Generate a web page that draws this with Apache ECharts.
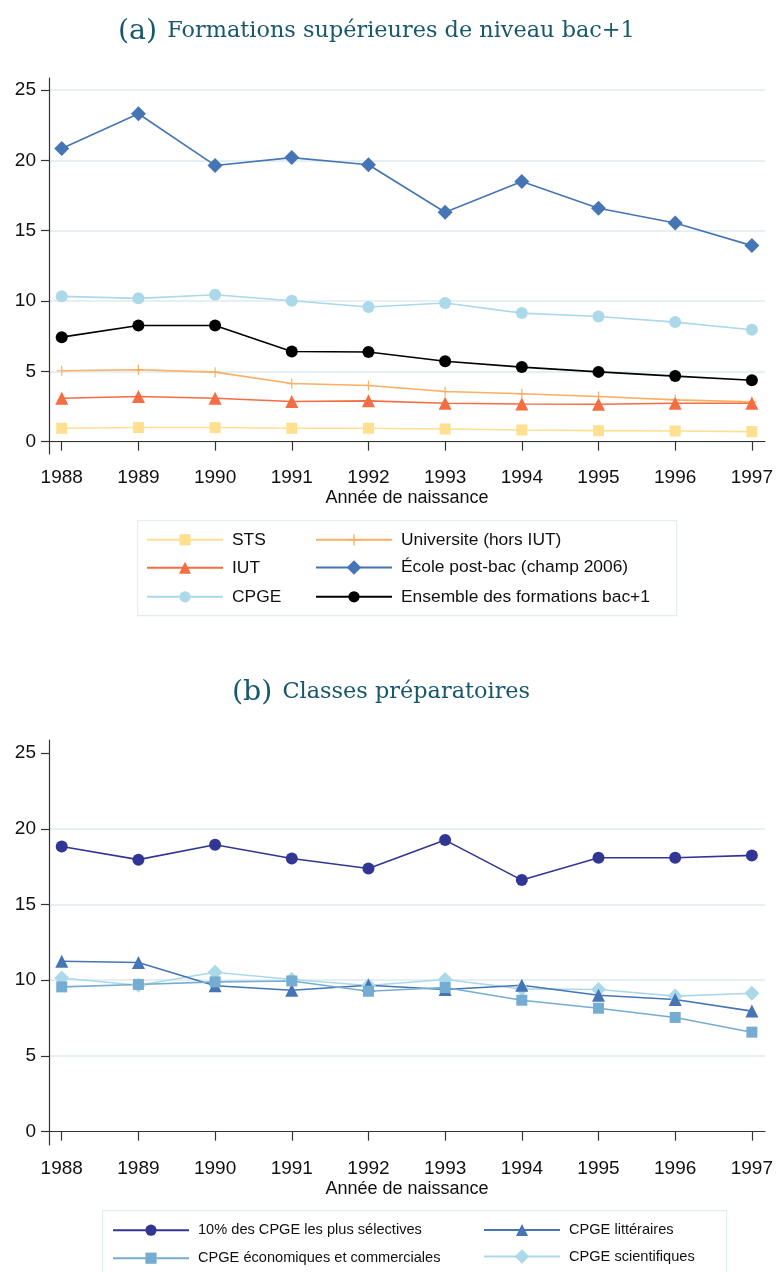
<!DOCTYPE html>
<html>
<head>
<meta charset="utf-8">
<script src="https://cdn.jsdelivr.net/npm/echarts@6.0.0/dist/echarts.min.js"></script>
<style>
  html, body { margin: 0; padding: 0; background: #fff; }
  #chart { width: 776px; height: 1272px; }
</style>
</head>
<body>
<div id="chart"></div>
<script>
// années de naissance (axe x)
const years = [1988, 1989, 1990, 1991, 1992, 1993, 1994, 1995, 1996, 1997];
const yTicks = [0, 5, 10, 15, 20, 25];
const gridLinesA = [0, 5, 10, 15, 20, 25];
const gridLinesB = [5, 10, 15, 20];

// (a) Formations supérieures de niveau bac+1
const sts = [0.95, 1.0, 1.0, 0.95, 0.95, 0.9, 0.83, 0.78, 0.76, 0.71];
const universite = [5.04, 5.11, 4.94, 4.13, 3.99, 3.56, 3.4, 3.21, 2.97, 2.83];
const iut = [3.09, 3.21, 3.09, 2.85, 2.9, 2.73, 2.68, 2.66, 2.73, 2.73];
const ecolePostBac = [20.85, 23.32, 19.64, 20.2, 19.69, 16.31, 18.5, 16.6, 15.55, 13.94];
const cpge = [10.33, 10.19, 10.45, 10.02, 9.57, 9.86, 9.14, 8.9, 8.5, 7.96];
const ensemble = [7.43, 8.26, 8.26, 6.41, 6.37, 5.72, 5.3, 4.96, 4.66, 4.37];

// (b) Classes préparatoires
const top10 = [18.83, 17.96, 18.94, 18.04, 17.38, 19.25, 16.61, 18.09, 18.09, 18.24];
const litteraires = [11.25, 11.17, 9.63, 9.34, 9.67, 9.39, 9.67, 9.01, 8.73, 7.96];
const economiques = [9.56, 9.72, 9.89, 9.95, 9.27, 9.52, 8.68, 8.15, 7.54, 6.57];
const scientifiques = [10.15, 9.67, 10.53, 10.05, 9.65, 10.05, 9.43, 9.39, 8.95, 9.14];

const SANS = "'Liberation Sans', Arial, sans-serif";
const SERIF = "'DejaVu Serif', serif";
const TITLE_COLOR = "#17586c";
const GRID_COLOR = "#e6eff2";
const AXIS_COLOR = "#333";

// symbole "+" plein
const plusSymbol = "path://M4.4,0 H5.6 V4.4 H10 V5.6 H5.6 V10 H4.4 V5.6 H0 V4.4 H4.4 Z";

const chart = echarts.init(document.getElementById("chart"), null, { renderer: "canvas" });

const pair = arr => arr.map((v, i) => [years[i], v]);

const mkSeries = (name, data, color, symbol, size, idx) => ({
    name: name,
    type: "line",
    xAxisIndex: idx,
    yAxisIndex: idx,
    data: pair(data),
    symbol: symbol,
    symbolSize: size,
    showAllSymbol: true,
    z: 3,
    lineStyle: { color: color, width: 1.6 },
    itemStyle: { color: color, borderWidth: 0 },
    emphasis: { disabled: true }
});

// lignes de grille horizontales
const gridSeries = (idx, values) => ({
    type: "line",
    xAxisIndex: idx,
    yAxisIndex: idx,
    data: [],
    z: 1,
    silent: true,
    markLine: {
        silent: true,
        z: 0,
        symbol: ["none", "none"],
        label: { show: false },
        animation: false,
        lineStyle: { color: GRID_COLOR, width: 1.8, type: "solid" },
        data: values.map(v => ({ yAxis: v }))
    }
});

const xAxisCfg = (idx) => ({
    type: "value",
    gridIndex: idx,
    min: 1987.834,
    max: 1997.17,
    name: "Année de naissance",
    nameLocation: "middle",
    nameGap: 35,
    nameTextStyle: { fontFamily: SANS, fontSize: 18, color: "#111" },
    splitLine: { show: false },
    axisLine: { lineStyle: { color: AXIS_COLOR, width: 1.2 } },
    axisTick: { show: true, length: 9, customValues: years, lineStyle: { color: AXIS_COLOR, width: 1.2 } },
    axisLabel: {
        customValues: years,
        margin: 14,
        fontFamily: SANS,
        fontSize: 19,
        color: "#111",
        formatter: v => String(v)
    }
});

const yAxisCfg = (idx) => ({
    type: "value",
    gridIndex: idx,
    min: -0.88,
    max: 25.86,
    splitLine: { show: false },
    axisLine: { show: true, lineStyle: { color: AXIS_COLOR, width: 1.2 } },
    axisTick: { show: true, length: 8, customValues: yTicks, lineStyle: { color: AXIS_COLOR, width: 1.2 } },
    axisLabel: {
        customValues: yTicks,
        margin: 13,
        fontFamily: SANS,
        fontSize: 19,
        color: "#111",
        formatter: v => String(v)
    }
});

// une légende par entrée, placée à la main
const legendItem = (name, left, centerY, fontSize, iconH) => ({
    orient: "horizontal",
    left: left,
    top: centerY + 1 - Math.max(iconH, fontSize) / 2,
    padding: 0,
    itemWidth: 76,
    itemHeight: iconH,
    selectedMode: false,
    data: [name],
    textStyle: { fontFamily: SANS, fontSize: fontSize, color: "#111", padding: [0, 0, 0, 4] }
});

const titleCfg = (text, left, top) => ({
    text: text,
    left: left,
    top: top,
    textStyle: {
        fontWeight: "normal",
        rich: {
            p: { fontFamily: SERIF, fontSize: 28.5, fontWeight: "normal", color: TITLE_COLOR,
                 verticalAlign: "middle", padding: [0, 5, 0, 0] },
            t: { fontFamily: SERIF, fontSize: 22.4, fontWeight: "normal", color: TITLE_COLOR, verticalAlign: "middle" }
        }
    }
});

const option = {
    animation: false,
    backgroundColor: "#fff",
    title: [
        titleCfg("{p|(a)} {t|Formations supérieures de niveau bac+1}", 113, 12),
        titleCfg("{p|(b)} {t|Classes préparatoires}", 227, 673)
    ],
    grid: [
        { left: 49, top: 78, width: 716, height: 376 },
        { left: 49, top: 740, width: 716, height: 405 }
    ],
    xAxis: [xAxisCfg(0), xAxisCfg(1)],
    yAxis: [yAxisCfg(0), yAxisCfg(1)],
    legend: [
        legendItem("STS", 146, 539, 17.4, 14),
        legendItem("IUT", 146, 567, 17.4, 15),
        legendItem("CPGE", 146, 596, 17.4, 14),
        legendItem("Universite (hors IUT)", 315, 539, 17.4, 14),
        legendItem("École post-bac (champ 2006)", 315, 567, 17.4, 18),
        legendItem("Ensemble des formations bac+1", 315, 596, 17.4, 14),
        legendItem("10% des CPGE les plus sélectives", 112, 1229, 14.6, 14),
        legendItem("CPGE économiques et commerciales", 112, 1257, 14.6, 14),
        legendItem("CPGE littéraires", 483, 1229, 14.6, 15),
        legendItem("CPGE scientifiques", 483, 1257, 14.6, 18)
    ],
    graphic: [
        { type: "rect", left: 137, top: 520, z: -1, shape: { width: 539, height: 95 },
          style: { fill: "#fff", stroke: "#e3ecef", lineWidth: 1.2 } },
        { type: "rect", left: 102, top: 1210, z: -1, shape: { width: 624, height: 80 },
          style: { fill: "#fff", stroke: "#e3ecef", lineWidth: 1.2 } }
    ],
    series: [
        gridSeries(0, gridLinesA),
        gridSeries(1, gridLinesB),
        mkSeries("STS", sts, "#fee090", "rect", 11, 0),
        mkSeries("Universite (hors IUT)", universite, "#fdae61", plusSymbol, 10, 0),
        mkSeries("IUT", iut, "#f46d43", "triangle", 13, 0),
        mkSeries("École post-bac (champ 2006)", ecolePostBac, "#4575b4", "diamond", 15, 0),
        mkSeries("CPGE", cpge, "#abd9e9", "circle", 12, 0),
        mkSeries("Ensemble des formations bac+1", ensemble, "#000000", "circle", 12, 0),
        mkSeries("10% des CPGE les plus sélectives", top10, "#313695", "circle", 12, 1),
        mkSeries("CPGE scientifiques", scientifiques, "#abd9e9", "diamond", 15, 1),
        mkSeries("CPGE littéraires", litteraires, "#4575b4", "triangle", 13, 1),
        mkSeries("CPGE économiques et commerciales", economiques, "#74add1", "rect", 11, 1)
    ]
};

chart.setOption(option);
</script>
</body>
</html>
